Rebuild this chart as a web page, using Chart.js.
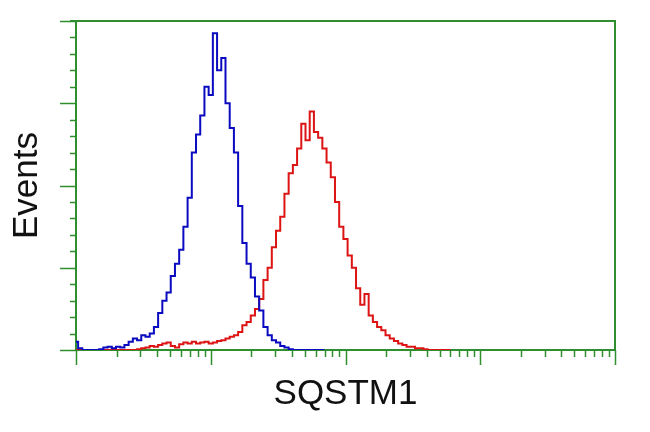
<!DOCTYPE html>
<html>
<head>
<meta charset="utf-8">
<script src="https://cdn.jsdelivr.net/npm/chart.js@4"></script>
<style>
  html, body { margin: 0; padding: 0; background: #fff; }
  #wrap { width: 650px; height: 432px; }
</style>
</head>
<body>
<div id="wrap"><canvas id="histo"></canvas></div>
<script>
// Histogram channels: 32 log-spaced bins per decade, 10^0 .. 10^4
const BINS_PER_DECADE = 32;
const X_MIN = 1;
const X_MAX = 10000;
const Y_MAX = 400;
const Y_MAJOR = 100;
const Y_MINOR = 20;

// counts per bin (bin 0 = 10^0)
const BLUE_COUNTS = [
  10, 2, 0, 0, 0, 0, 1, 3, 4, 2,
  4, 3, 6, 10, 14, 12, 18, 16, 20, 28,
  45, 60, 70, 90, 105, 122, 150, 185, 240, 262,
  285, 320, 310, 385, 340, 355, 300, 270, 240, 175,
  130, 105, 88, 65, 48, 28, 18, 12, 9, 5,
  3, 1, 0, 0, 0, 0, 0, 0, 0, 0
];
const RED_COUNTS = [
  0, 0, 0, 0, 0, 0, 0, 0, 0, 0,
  0, 0, 0, 0, 0, 1, 2, 3, 5, 4,
  6, 8, 9, 5, 3, 7, 9, 8, 10, 8,
  9, 10, 8, 9, 11, 12, 14, 16, 18, 22,
  30, 34, 42, 50, 62, 85, 100, 125, 145, 162,
  190, 215, 225, 245, 275, 255, 290, 265, 258, 245,
  228, 210, 180, 150, 135, 115, 100, 75, 55, 68,
  42, 34, 28, 24, 18, 14, 11, 8, 6, 4,
  4, 2, 2, 1, 0, 0, 0, 0, 0, 0
];

const GREEN = '#2f8f2f';

function toPoints(counts) {
  return counts.map((c, i) => ({ x: Math.pow(10, i / BINS_PER_DECADE), y: c }));
}

// frame + the log / linear tick marks, placed through the chart's own scales
const frameTicks = {
  id: 'frameTicks',
  afterDraw(chart) {
    const { ctx, chartArea: a, scales: { x, y } } = chart;
    ctx.save();
    ctx.strokeStyle = GREEN;
    ctx.lineWidth = 2;
    ctx.beginPath();
    ctx.moveTo(a.left - 6, a.top);
    ctx.lineTo(a.right, a.top);
    ctx.lineTo(a.right, a.bottom);
    ctx.stroke();

    ctx.lineWidth = 1.5;
    ctx.beginPath();
    for (let d = X_MIN; d <= X_MAX; d *= 10) {
      for (let m = 1; m <= 9; m++) {
        const v = d * m;
        if (v > X_MAX) break;
        const px = Math.round(x.getPixelForValue(v)) + 0.5;
        const len = m === 1 ? 15 : 7;
        ctx.moveTo(px, a.bottom);
        ctx.lineTo(px, a.bottom + len);
      }
    }
    for (let v = 0; v <= Y_MAX; v += Y_MINOR) {
      const py = Math.round(y.getPixelForValue(v)) + 0.5;
      const len = v % Y_MAJOR === 0 ? 16 : 6;
      ctx.moveTo(a.left, py);
      ctx.lineTo(a.left - len, py);
    }
    ctx.stroke();
    ctx.restore();
  }
};

new Chart(document.getElementById('histo'), {
  type: 'line',
  data: {
    datasets: [
      {
        label: 'Control',
        data: toPoints(BLUE_COUNTS),
        borderColor: '#0a0ac0',
        borderWidth: 2,
        pointRadius: 0,
        stepped: 'middle',
        fill: false
      },
      {
        label: 'SQSTM1',
        data: toPoints(RED_COUNTS),
        borderColor: '#dc1414',
        borderWidth: 2,
        pointRadius: 0,
        stepped: 'middle',
        fill: false
      }
    ]
  },
  options: {
    responsive: true,
    maintainAspectRatio: false,
    animation: false,
    layout: { padding: { top: 21, right: 35, left: 0, bottom: 0 } },
    plugins: { legend: { display: false }, tooltip: { enabled: false } },
    scales: {
      x: {
        type: 'logarithmic',
        min: X_MIN,
        max: X_MAX,
        grid: { display: false },
        ticks: { display: false },
        border: { display: true, color: GREEN, width: 2 },
        title: {
          display: true,
          text: 'SQSTM1',
          color: '#111',
          font: { family: 'Liberation Sans, Arial, sans-serif', size: 35 },
          padding: { top: 0, bottom: 17 }
        },
        afterFit(scale) { scale.height = 82; }
      },
      y: {
        min: 0,
        max: Y_MAX,
        grid: { display: false },
        ticks: { display: false },
        border: { display: true, color: GREEN, width: 2 },
        title: {
          display: true,
          text: 'Events',
          color: '#111',
          font: { family: 'Liberation Sans, Arial, sans-serif', size: 35 },
          padding: { top: 6, bottom: 0 }
        },
        afterFit(scale) { scale.width = 76; }
      }
    }
  },
  plugins: [frameTicks]
});
</script>
</body>
</html>
